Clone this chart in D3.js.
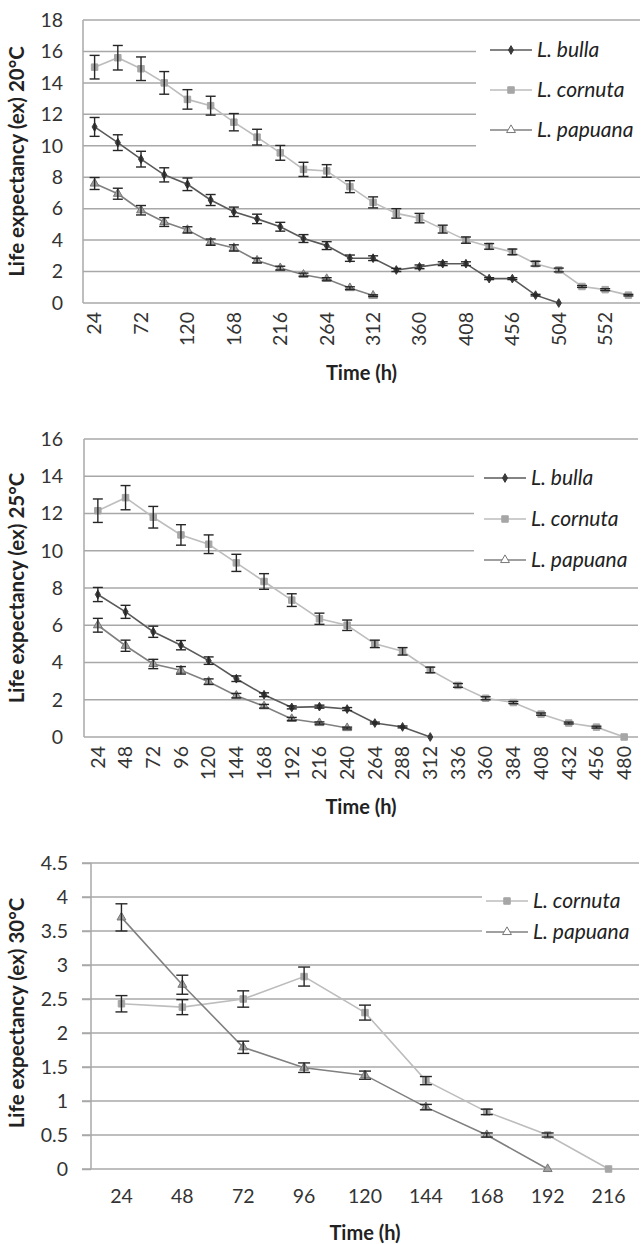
<!DOCTYPE html>
<html>
<head>
<meta charset="utf-8">
<script src="https://cdn.jsdelivr.net/npm/d3@7"></script>
<style>
  html, body { margin: 0; padding: 0; background: #fff; }
  svg { display: block; }
  text { font-family: Lato, "Open Sans", sans-serif; }
</style>
</head>
<body>
<svg id="chart" width="642" height="1244"></svg>
<script>
// ---------- DATA ----------
// 20 °C
const hours20 = [24,48,72,96,120,144,168,192,216,240,264,288,312,336,360,384,408,432,456,480,504,528,552,576];
const hours20Labels = [24,72,120,168,216,264,312,360,408,456,504,552];
const bulla20 = [11.2,10.2,9.15,8.15,7.55,6.55,5.8,5.35,4.85,4.1,3.65,2.85,2.85,2.1,2.3,2.5,2.5,1.55,1.55,0.5,0];
const bulla20Err = [0.6,0.5,0.5,0.45,0.4,0.35,0.3,0.3,0.28,0.25,0.25,0.2,0.15,0.1,0.12,0.12,0.12,0.06,0.06,0.05,0];
const cornuta20 = [15.0,15.6,14.9,14.0,12.95,12.55,11.5,10.55,9.55,8.5,8.4,7.4,6.4,5.7,5.4,4.7,4.0,3.6,3.25,2.5,2.1,1.05,0.85,0.5];
const cornuta20Err = [0.75,0.78,0.75,0.72,0.62,0.6,0.55,0.5,0.47,0.45,0.4,0.38,0.35,0.3,0.3,0.25,0.2,0.18,0.18,0.15,0.12,0.06,0.06,0.05];
const papuana20 = [7.6,6.95,5.9,5.15,4.65,3.87,3.5,2.7,2.22,1.8,1.53,0.95,0.47];
const papuana20Err = [0.38,0.35,0.3,0.28,0.2,0.2,0.2,0.15,0.12,0.1,0.08,0.08,0.05];
const yTicks20 = [0,2,4,6,8,10,12,14,16,18];

// 25 °C
const hours25 = [24,48,72,96,120,144,168,192,216,240,264,288,312,336,360,384,408,432,456,480];
const bulla25 = [7.65,6.72,5.65,4.93,4.1,3.13,2.27,1.59,1.63,1.5,0.75,0.54,0];
const bulla25Err = [0.38,0.35,0.3,0.25,0.2,0.15,0.1,0.08,0.08,0.08,0.05,0.05,0];
const cornuta25 = [12.15,12.85,11.8,10.85,10.35,9.35,8.35,7.35,6.35,6.0,5.0,4.6,3.6,2.77,2.08,1.85,1.23,0.75,0.53,0];
const cornuta25Err = [0.63,0.65,0.58,0.55,0.5,0.46,0.42,0.34,0.3,0.28,0.2,0.2,0.15,0.1,0.08,0.06,0.06,0.05,0.05,0];
const papuana25 = [6.0,4.9,3.92,3.58,2.97,2.22,1.65,0.97,0.75,0.48];
const papuana25Err = [0.37,0.3,0.25,0.2,0.15,0.12,0.1,0.08,0.06,0.05];
const yTicks25 = [0,2,4,6,8,10,12,14,16];

// 30 °C
const hours30 = [24,48,72,96,120,144,168,192,216];
const cornuta30 = [2.43,2.38,2.5,2.83,2.3,1.3,0.84,0.5,0];
const cornuta30Err = [0.12,0.11,0.12,0.14,0.11,0.06,0.04,0.03,0];
const papuana30 = [3.7,2.71,1.79,1.49,1.38,0.91,0.5,0];
const papuana30Err = [0.2,0.14,0.09,0.07,0.06,0.04,0.03,0];
const yTicks30 = [0,0.5,1,1.5,2,2.5,3,3.5,4,4.5];

// ---------- STYLES ----------
const styles = {
  bulla:   { name: "L. bulla",   line: "#5a5a5a", marker: "diamond", fill: "#3a3a3a", stroke: "#3a3a3a" },
  cornuta: { name: "L. cornuta", line: "#bdbdbd", marker: "square",  fill: "#a6a6a6", stroke: "#a6a6a6" },
  papuana: { name: "L. papuana", line: "#808080", marker: "triangle", fill: "#a2a2a2", stroke: "#777" }
};

const svg = d3.select("#chart");

function markerPath(type) {
  if (type === "diamond") return d3.symbol().type(d3.symbolDiamond).size(22)();
  if (type === "square") return d3.symbol().type(d3.symbolSquare).size(42)();
  return d3.symbol().type(d3.symbolTriangle).size(34)();
}

function drawChart(cfg) {
  const g = svg.append("g");
  const x = d3.scaleBand().domain(cfg.hours).range([cfg.left, cfg.right]);
  const cx = h => x(h) + x.bandwidth() / 2;
  const y = d3.scaleLinear().domain(cfg.yDomain).range([cfg.bottom, cfg.top]);

  // gridlines
  g.append("g").selectAll("line").data(cfg.yTicks.filter(t => t !== cfg.yDomain[0])).join("line")
    .attr("x1", cfg.left - cfg.tickOut).attr("x2", cfg.right)
    .attr("y1", d => y(d)).attr("y2", d => y(d))
    .attr("stroke", "#a8a8a8").attr("stroke-width", 1.5);

  // y axis
  const yAxis = d3.axisLeft(y).tickValues(cfg.yTicks).tickSize(cfg.tickOut).tickPadding(cfg.tickPad)
    .tickFormat(d => String(d));
  const ya = g.append("g").attr("transform", `translate(${cfg.left},0)`).call(yAxis);
  ya.select(".domain").attr("stroke", "#a8a8a8").attr("stroke-width", 1.5)
    .attr("d", `M0,${cfg.top}V${cfg.bottom}`);
  ya.selectAll(".tick line").attr("stroke", "#a8a8a8").attr("stroke-width", 1.5);
  ya.selectAll(".tick text").attr("fill", "#333").style("font-size", "19.5px");

  // x axis
  const xAxis = d3.axisBottom(x).tickValues(cfg.xLabels).tickSize(0).tickPadding(cfg.rotate ? 0 : 20)
    .tickFormat(d => String(d));
  const xa = g.append("g").attr("transform", `translate(0,${cfg.bottom})`).call(xAxis);
  xa.select(".domain").attr("stroke", "#a8a8a8").attr("stroke-width", 1.5)
    .attr("d", `M${cfg.left - cfg.tickOut},0H${cfg.right}`);
  xa.selectAll(".tick text").attr("fill", "#333").style("font-size", "19.5px");
  if (cfg.rotate) {
    xa.selectAll(".tick text")
      .attr("transform", "rotate(-90)")
      .attr("x", -9).attr("y", 0).attr("dy", "0.35em")
      .attr("text-anchor", "end");
  } else {
    xa.selectAll(".tick text").attr("dy", "0.71em");
  }

  // axis titles
  g.append("text")
    .attr("transform", `translate(${cfg.yTitleX},${(cfg.top + cfg.bottom) / 2 + cfg.yTitleShift}) rotate(-90)`)
    .attr("text-anchor", "middle").attr("dy", "0.35em")
    .style("font-size", "20.5px").style("font-weight", "bold").attr("fill", "#222")
    .text(cfg.yTitle);
  g.append("text")
    .attr("x", (cfg.left + cfg.right) / 2).attr("y", cfg.xTitleY)
    .attr("text-anchor", "middle")
    .style("font-size", "20px").style("font-weight", "bold").attr("fill", "#222")
    .text("Time (h)");

  // legend background (covers gridlines)
  g.append("rect")
    .attr("x", cfg.legend.x).attr("y", cfg.legend.y0 - cfg.legend.step / 2 - 2)
    .attr("width", 642 - cfg.legend.x).attr("height", cfg.legend.step * cfg.series.length + 4)
    .attr("fill", "#fff");

  // series lines
  cfg.series.forEach(s => {
    const st = styles[s.key];
    const pts = s.values.map((v, i) => ({ h: cfg.hours[i], v, e: s.err[i] }));
    g.append("path").datum(pts)
      .attr("fill", "none").attr("stroke", st.line).attr("stroke-width", 1.6)
      .attr("d", d3.line().x(d => cx(d.h)).y(d => y(d.v)));
  });
  // markers and error bars
  cfg.series.forEach(s => {
    const st = styles[s.key];
    const pts = s.values.map((v, i) => ({ h: cfg.hours[i], v, e: s.err[i] }));
    const mg = g.append("g");
    mg.selectAll("path").data(pts).join("path")
      .attr("d", markerPath(st.marker))
      .attr("transform", d => `translate(${cx(d.h)},${y(d.v)})`)
      .attr("fill", st.fill).attr("stroke", st.stroke).attr("stroke-width", 1);
    const eg = g.append("g").attr("stroke", "#262626").attr("stroke-width", 1.4);
    const withErr = pts.filter(d => d.e > 0);
    eg.selectAll("line.v").data(withErr).join("line").attr("class", "v")
      .attr("x1", d => cx(d.h)).attr("x2", d => cx(d.h))
      .attr("y1", d => y(d.v - d.e)).attr("y2", d => y(d.v + d.e));
    eg.selectAll("line.t").data(withErr).join("line").attr("class", "t")
      .attr("x1", d => cx(d.h) - cfg.cap).attr("x2", d => cx(d.h) + cfg.cap)
      .attr("y1", d => y(d.v + d.e)).attr("y2", d => y(d.v + d.e));
    eg.selectAll("line.b").data(withErr).join("line").attr("class", "b")
      .attr("x1", d => cx(d.h) - cfg.cap).attr("x2", d => cx(d.h) + cfg.cap)
      .attr("y1", d => y(d.v - d.e)).attr("y2", d => y(d.v - d.e));
  });

  // legend entries
  cfg.series.forEach((s, i) => {
    const st = styles[s.key];
    const ly = cfg.legend.y0 + i * cfg.legend.step;
    const lx = cfg.legend.lineX;
    g.append("line").attr("x1", lx).attr("x2", lx + 42).attr("y1", ly).attr("y2", ly)
      .attr("stroke", st.line).attr("stroke-width", 1.6);
    g.append("path").attr("d", markerPath(st.marker))
      .attr("transform", `translate(${lx + 21},${ly})`)
      .attr("fill", s.key === "papuana" ? "#fff" : st.fill).attr("stroke", st.stroke).attr("stroke-width", 1);
    g.append("text").attr("x", lx + 47).attr("y", ly).attr("dy", "0.35em")
      .style("font-size", "21px").style("font-style", "italic").attr("fill", "#222")
      .text(st.name);
  });
}

drawChart({
  hours: hours20, xLabels: hours20Labels, rotate: true,
  left: 83, right: 640, top: 20, bottom: 303, yDomain: [0, 18], yTicks: yTicks20,
  tickOut: 0, tickPad: 20, cap: 5,
  yTitle: "Life expectancy (ex) 20°C", yTitleX: 17, yTitleShift: 0, xTitleY: 380,
  legend: { x: 476, y0: 50, step: 40, lineX: 490 },
  series: [
    { key: "bulla", values: bulla20, err: bulla20Err },
    { key: "cornuta", values: cornuta20, err: cornuta20Err },
    { key: "papuana", values: papuana20, err: papuana20Err }
  ]
});

drawChart({
  hours: hours25, xLabels: hours25, rotate: true,
  left: 84, right: 638, top: 439, bottom: 737, yDomain: [0, 16], yTicks: yTicks25,
  tickOut: 0, tickPad: 21, cap: 5,
  yTitle: "Life expectancy (ex) 25°C", yTitleX: 17, yTitleShift: 0, xTitleY: 814,
  legend: { x: 474, y0: 478, step: 41, lineX: 484 },
  series: [
    { key: "bulla", values: bulla25, err: bulla25Err },
    { key: "cornuta", values: cornuta25, err: cornuta25Err },
    { key: "papuana", values: papuana25, err: papuana25Err }
  ]
});

drawChart({
  hours: hours30, xLabels: hours30, rotate: false,
  left: 91, right: 639, top: 863, bottom: 1169, yDomain: [0, 4.5], yTicks: yTicks30,
  tickOut: 9, tickPad: 14, cap: 6,
  yTitle: "Life expectancy (ex) 30°C", yTitleX: 17, yTitleShift: -3, xTitleY: 1240,
  legend: { x: 482, y0: 901, step: 31, lineX: 486 },
  series: [
    { key: "cornuta", values: cornuta30, err: cornuta30Err },
    { key: "papuana", values: papuana30, err: papuana30Err }
  ]
});
</script>
</body>
</html>
